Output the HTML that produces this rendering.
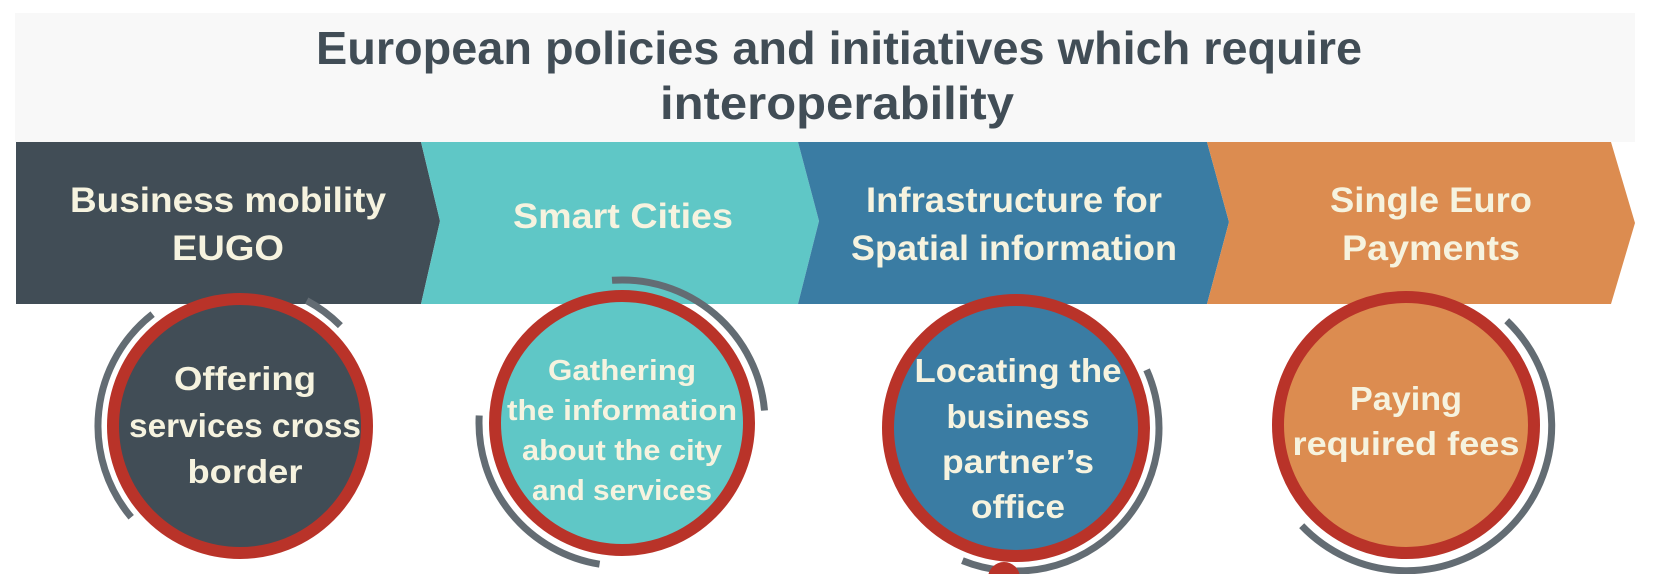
<!DOCTYPE html>
<html><head><meta charset="utf-8"><style>
html,body{margin:0;padding:0;background:#fff;}
svg{display:block;}
text{font-family:"Liberation Sans",sans-serif;font-weight:bold;}
</style></head><body>
<svg width="1664" height="574" viewBox="0 0 1664 574">
<rect x="15" y="13" width="1620" height="129" fill="#f8f8f8"/>
<text x="839" y="64" font-size="46" fill="#414d56" text-anchor="middle" textLength="1046" lengthAdjust="spacingAndGlyphs">European policies and initiatives which require</text>
<text x="837" y="119" font-size="46" fill="#414d56" text-anchor="middle" textLength="354" lengthAdjust="spacingAndGlyphs">interoperability</text>

<polygon points="16,142 421,142 440,221 421,304 16,304" fill="#414d56"/>
<polygon points="421,142 798,142 819,221 798,304 421,304 440,221" fill="#5fc7c6"/>
<polygon points="798,142 1207,142 1229,222 1207,304 798,304 819,221" fill="#3a7ca3"/>
<polygon points="1207,142 1611,142 1635,223 1611,304 1207,304 1229,222" fill="#dc8c50"/>

<g fill="#f6f3df" font-size="35" text-anchor="middle">
<text x="228" y="212" textLength="316" lengthAdjust="spacingAndGlyphs">Business mobility</text>
<text x="228" y="260" textLength="112" lengthAdjust="spacingAndGlyphs">EUGO</text>
<text x="623" y="228" textLength="220" lengthAdjust="spacingAndGlyphs">Smart Cities</text>
<text x="1014" y="212" textLength="296" lengthAdjust="spacingAndGlyphs">Infrastructure for</text>
<text x="1014" y="260" textLength="326" lengthAdjust="spacingAndGlyphs">Spatial information</text>
<text x="1431" y="212" textLength="202" lengthAdjust="spacingAndGlyphs">Single Euro</text>
<text x="1431" y="260" textLength="178" lengthAdjust="spacingAndGlyphs">Payments</text>
</g>

<g fill="none" stroke="#636c73" stroke-width="7">
<path id="arc1"/>
<path id="arc1b"/>
<path id="arc2a"/>
<path id="arc2b"/>
<path id="arc3"/>
<path id="arc4"/>
</g>

<circle cx="1004" cy="578" r="16" fill="#b93329"/>

<circle cx="240" cy="426" r="127" fill="#414d56" stroke="#b93329" stroke-width="12"/>
<circle cx="622" cy="423" r="127" fill="#5fc7c6" stroke="#b93329" stroke-width="12"/>
<circle cx="1016" cy="428" r="128" fill="#3a7ca3" stroke="#b93329" stroke-width="12"/>
<circle cx="1406" cy="425" r="128" fill="#dc8c50" stroke="#b93329" stroke-width="12"/>

<g fill="#f6f3df" text-anchor="middle">
<g font-size="33">
<text x="245" y="390" textLength="142" lengthAdjust="spacingAndGlyphs">Offering</text>
<text x="245" y="437" textLength="232" lengthAdjust="spacingAndGlyphs">services cross</text>
<text x="245" y="483" textLength="115" lengthAdjust="spacingAndGlyphs">border</text>
</g>
<g font-size="29">
<text x="622" y="380" textLength="148" lengthAdjust="spacingAndGlyphs">Gathering</text>
<text x="622" y="420" textLength="230" lengthAdjust="spacingAndGlyphs">the information</text>
<text x="622" y="460" textLength="200" lengthAdjust="spacingAndGlyphs">about the city</text>
<text x="622" y="500" textLength="180" lengthAdjust="spacingAndGlyphs">and services</text>
</g>
<g font-size="33">
<text x="1018" y="382" textLength="207" lengthAdjust="spacingAndGlyphs">Locating the</text>
<text x="1018" y="428" textLength="143" lengthAdjust="spacingAndGlyphs">business</text>
<text x="1018" y="473" textLength="152" lengthAdjust="spacingAndGlyphs">partner’s</text>
<text x="1018" y="518" textLength="94" lengthAdjust="spacingAndGlyphs">office</text>
<text x="1406" y="410" textLength="112" lengthAdjust="spacingAndGlyphs">Paying</text>
<text x="1406" y="455" textLength="227" lengthAdjust="spacingAndGlyphs">required fees</text>
</g>
</g>
</svg>
<script>
function arc(cx,cy,r,a0,a1){
  var p=function(a){var t=a*Math.PI/180;return [cx+r*Math.cos(t),cy+r*Math.sin(t)];};
  var s=p(a0),e=p(a1),large=(a1-a0)>180?1:0;
  return 'M'+s[0].toFixed(1)+' '+s[1].toFixed(1)+' A'+r+' '+r+' 0 '+large+' 1 '+e[0].toFixed(1)+' '+e[1].toFixed(1);
}
document.getElementById('arc1').setAttribute('d',arc(240,426,142,140,232));
document.getElementById('arc1b').setAttribute('d',arc(240,426,142,-62,-45));
document.getElementById('arc2a').setAttribute('d',arc(622,423,143,-94,-5));
document.getElementById('arc2b').setAttribute('d',arc(622,423,143,99,183));
document.getElementById('arc3').setAttribute('d',arc(1016,428,143,-24,112));
document.getElementById('arc4').setAttribute('d',arc(1406,425,145,-46,136));
</script>
</body></html>
